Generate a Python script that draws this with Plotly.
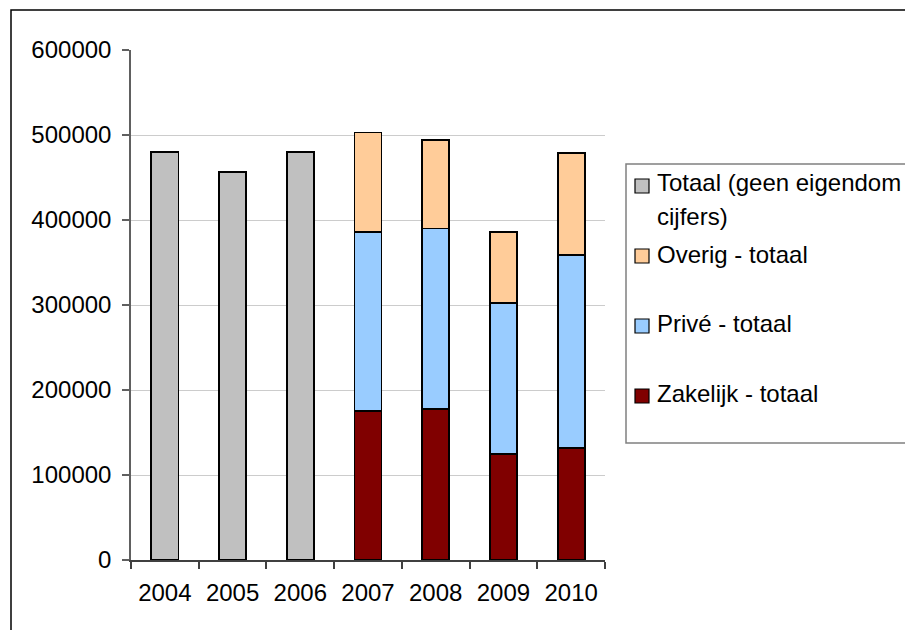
import plotly.graph_objects as go

years = ["2004", "2005", "2006", "2007", "2008", "2009", "2010"]
totaal = [480000, 456800, 480000, None, None, None, None]
zakelijk = [None, None, None, 175000, 177600, 124700, 131400]
prive = [None, None, None, 210500, 212400, 177300, 227800]
overig = [None, None, None, 117500, 104000, 84000, 119800]

legend_names = ["Totaal (geen eigendom", "cijfers)", "Overig - totaal",
                "Privé - totaal", "Zakelijk - totaal"]

C_TOT = "#C0C0C0"
C_OVE = "#FFCC99"
C_PRI = "#99CCFF"
C_ZAK = "#800000"

FONT = "Liberation Sans, Arial, sans-serif"
FS = 24

# plot area in screen pixels (body margin is removed below)
W, H = 905, 630
L, R, T, B = 131, 605, 50, 560


def px(x):
    return (x - L) / (R - L)


def py(y):
    return (B - y) / (B - T)


fig = go.Figure()
for name, vals, col in [("Zakelijk - totaal", zakelijk, C_ZAK),
                        ("Privé - totaal", prive, C_PRI),
                        ("Overig - totaal", overig, C_OVE),
                        ("Totaal (geen eigendom cijfers)", totaal, C_TOT)]:
    fig.add_trace(
        go.Bar(
            x=years,
            y=vals,
            name=name,
            marker=dict(color=col, line=dict(color="#000000", width=1.8)),
            showlegend=False,
        )
    )

# outer chart frame
fig.add_shape(type="rect", xref="paper", yref="paper",
              x0=px(11), x1=px(930), y0=py(660), y1=py(10),
              line=dict(color="#000000", width=1.5), layer="below")

# legend box, drawn by hand to match the original layout
fig.add_shape(type="rect", xref="paper", yref="paper",
              x0=px(626), x1=px(930), y0=py(443), y1=py(164),
              line=dict(color="#808080", width=1.5), fillcolor="white")

swatches = [(186, C_TOT), (256, C_OVE), (326, C_PRI), (396, C_ZAK)]
for cy, col in swatches:
    fig.add_shape(type="rect", xref="paper", yref="paper",
                  x0=px(635), x1=px(649), y0=py(cy + 7), y1=py(cy - 7),
                  line=dict(color="#000000", width=1.2), fillcolor=col)

text_y = [183, 217, 254, 323, 393]
for txt, ty in zip(legend_names, text_y):
    fig.add_annotation(x=px(655), y=py(ty), xref="paper", yref="paper",
                       text=txt, showarrow=False, xanchor="left",
                       yanchor="middle", font=dict(family=FONT, size=FS,
                                                   color="#000000"))

fig.update_layout(
    barmode="stack",
    bargap=0.6,
    width=W,
    height=H,
    margin=dict(l=L, r=W - R, t=T, b=H - B, autoexpand=False),
    paper_bgcolor="white",
    plot_bgcolor="white",
    font=dict(family=FONT, size=FS, color="#000000"),
)

fig.update_xaxes(
    type="category",
    showline=True,
    linecolor="#404040",
    linewidth=1.5,
    ticks="outside",
    tickson="boundaries",
    ticklen=7,
    tickcolor="#404040",
    tickwidth=1.5,
    ticklabelstandoff=10,
    showgrid=False,
)

fig.update_yaxes(
    range=[0, 600000],
    dtick=100000,
    tickformat="d",
    showline=True,
    linecolor="#606060",
    linewidth=1.5,
    ticks="outside",
    ticklen=7,
    tickcolor="#606060",
    tickwidth=1.5,
    ticklabelstandoff=6,
    showgrid=True,
    gridcolor="#CCCCCC",
    gridwidth=1,
    zeroline=False,
)

fig.write_html(
    "out.html",
    config={"displayModeBar": False},
    post_script="document.body.style.margin='0';document.body.style.overflow='hidden';",
)
